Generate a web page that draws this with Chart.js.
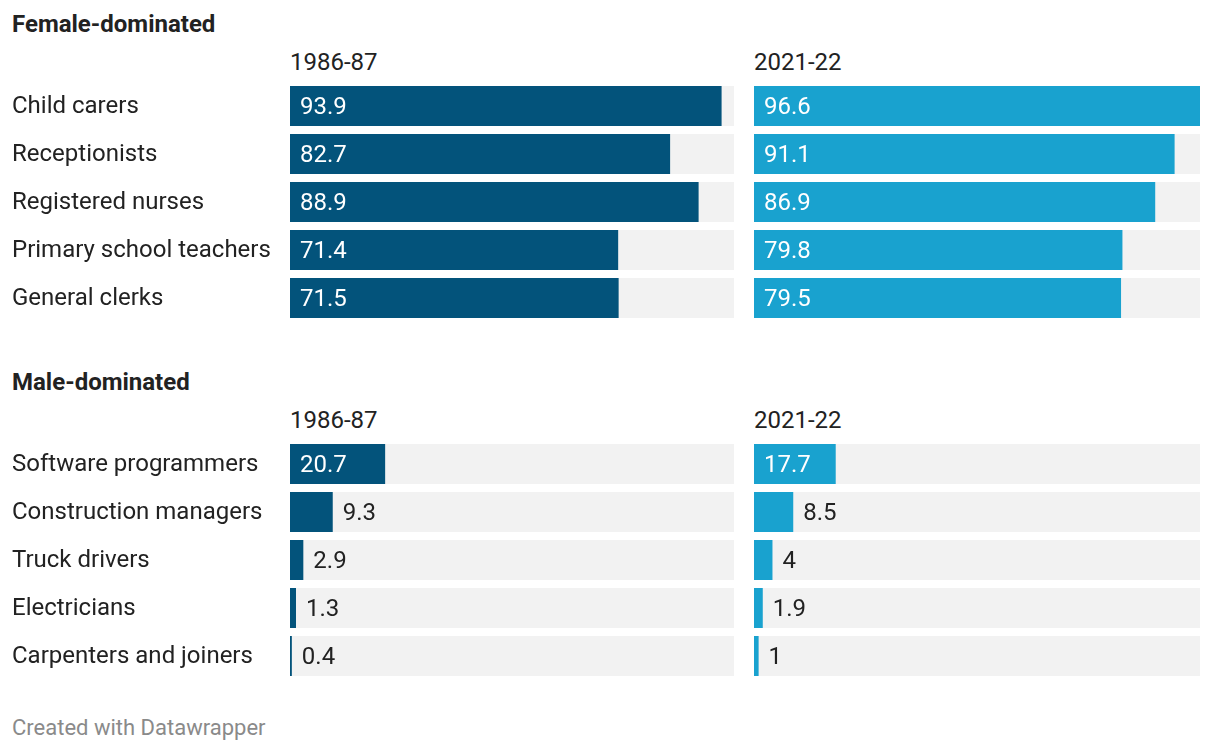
<!DOCTYPE html>
<html>
<head>
<meta charset="utf-8">
<script src="https://cdn.jsdelivr.net/npm/chart.js@4"></script>
<style>
  body { margin: 0; background: #fff; font-family: Roboto, sans-serif; color: #222; }
  #wrap { position: relative; width: 1220px; height: 752px; }
  .t { position: absolute; white-space: nowrap; line-height: 1; }
  .title { font-weight: 700; font-size: 24px; left: 12px; }
  .yr { font-size: 24px; }
  .foot { font-size: 22px; color: #8a8a8a; left: 12px; }
  .box { position: absolute; }
</style>
</head>
<body>
<div id="wrap">
  <div class="t title" style="top:12px">Female-dominated</div>
  <div class="t yr" style="top:50px;left:290px">1986-87</div>
  <div class="t yr" style="top:50px;left:754px">2021-22</div>
  <div class="box" style="left:0;top:82px;width:734px;height:240px"><canvas id="f1"></canvas></div>
  <div class="box" style="left:754px;top:82px;width:446px;height:240px"><canvas id="f2"></canvas></div>

  <div class="t title" style="top:370px">Male-dominated</div>
  <div class="t yr" style="top:408px;left:290px">1986-87</div>
  <div class="t yr" style="top:408px;left:754px">2021-22</div>
  <div class="box" style="left:0;top:440px;width:734px;height:240px"><canvas id="m1"></canvas></div>
  <div class="box" style="left:754px;top:440px;width:446px;height:240px"><canvas id="m2"></canvas></div>

  <div class="t foot" style="top:717px">Created with Datawrapper</div>
</div>
<script>
const femaleJobs = ['Child carers', 'Receptionists', 'Registered nurses', 'Primary school teachers', 'General clerks'];
const female1986 = [93.9, 82.7, 88.9, 71.4, 71.5];
const female2021 = [96.6, 91.1, 86.9, 79.8, 79.5];

const maleJobs = ['Software programmers', 'Construction managers', 'Truck drivers', 'Electricians', 'Carpenters and joiners'];
const male1986 = [20.7, 9.3, 2.9, 1.3, 0.4];
const male2021 = [17.7, 8.5, 4, 1.9, 1];

const MAX = 96.6;
const DARK = '#03537b';
const LIGHT = '#19a2cf';
const TRACK = '#f2f2f2';

Chart.defaults.font.family = 'Roboto';
Chart.defaults.color = '#222';

const valueLabels = {
  id: 'valueLabels',
  afterDatasetsDraw(chart) {
    const ctx = chart.ctx;
    const meta = chart.getDatasetMeta(0);
    const vals = chart.data.datasets[0].data;
    ctx.save();
    ctx.font = '24px Roboto';
    ctx.textBaseline = 'middle';
    meta.data.forEach((bar, i) => {
      const txt = String(vals[i]);
      const w = ctx.measureText(txt).width;
      if (w + 20 <= bar.x - bar.base) {
        ctx.fillStyle = '#fff';
        ctx.fillText(txt, bar.base + 10, bar.y + 2);
      } else {
        ctx.fillStyle = '#222';
        ctx.fillText(txt, bar.x + 10, bar.y + 2);
      }
    });
    ctx.restore();
  }
};

function makeChart(id, labels, values, color, showLabels) {
  new Chart(document.getElementById(id), {
    type: 'bar',
    data: {
      labels: labels,
      datasets: [
        { data: values, backgroundColor: color, order: 0 },
        { data: labels.map(() => MAX), backgroundColor: TRACK, order: 1 }
      ]
    },
    options: {
      indexAxis: 'y',
      responsive: true,
      maintainAspectRatio: false,
      animation: false,
      datasets: { bar: { grouped: false, barPercentage: 40 / 48, categoryPercentage: 1 } },
      layout: { padding: { left: showLabels ? 12 : 0, right: 0, top: 0, bottom: 0 } },
      scales: {
        x: { display: false, min: 0, max: MAX },
        y: {
          display: showLabels,
          grid: { display: false },
          border: { display: false },
          ticks: { font: { size: 24 }, color: '#222', crossAlign: 'far', padding: 0, labelOffset: 1 },
          afterFit: s => {
            if (showLabels) s.width = 278;
            s.paddingTop = 0;
            s.paddingBottom = 0;
          }
        }
      },
      plugins: { legend: { display: false }, tooltip: { enabled: false } }
    },
    plugins: [valueLabels]
  });
}

makeChart('f1', femaleJobs, female1986, DARK, true);
makeChart('f2', femaleJobs, female2021, LIGHT, false);
makeChart('m1', maleJobs, male1986, DARK, true);
makeChart('m2', maleJobs, male2021, LIGHT, false);
</script>
</body>
</html>
